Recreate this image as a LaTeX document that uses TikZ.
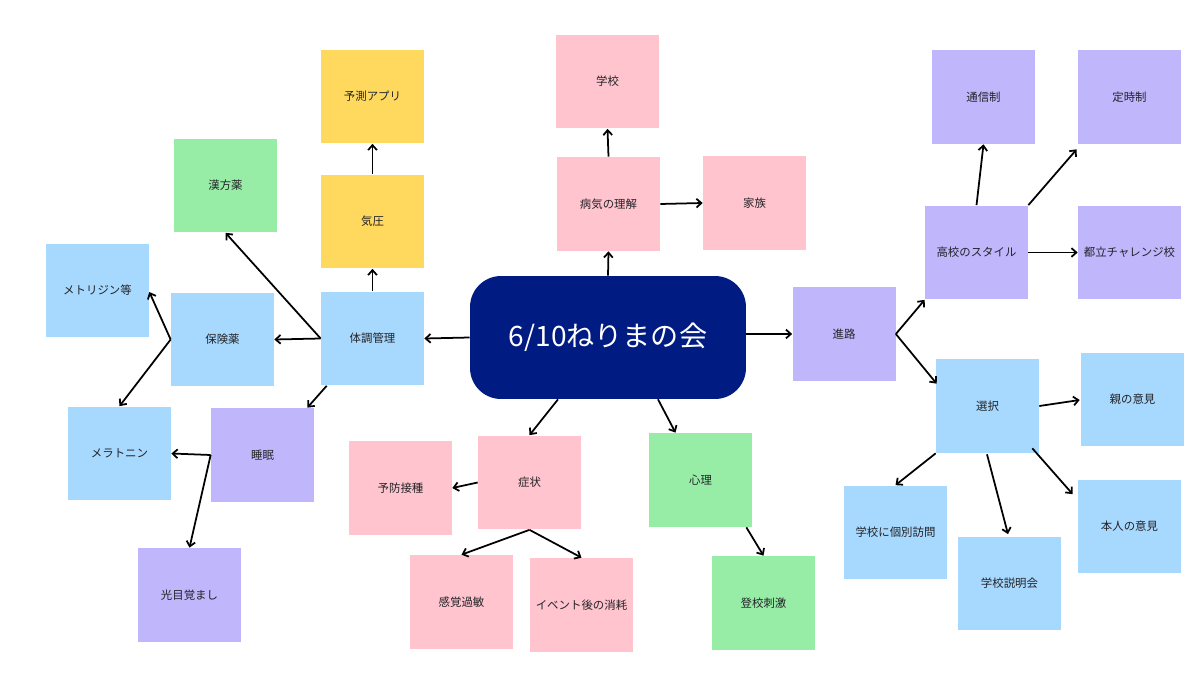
\documentclass[tikz,border=0pt]{standalone}
\usepackage{fontspec}
\newfontfamily\jp{Noto Sans CJK JP}
\usetikzlibrary{arrows.meta,calc}
\definecolor{cblue}{RGB}{167,216,253}
\definecolor{cpurple}{RGB}{192,182,252}
\definecolor{cpink}{RGB}{255,196,205}
\definecolor{cgreen}{RGB}{151,236,166}
\definecolor{cyellow}{RGB}{255,217,94}
\definecolor{cnavy}{RGB}{0,27,130}
\definecolor{ctext}{RGB}{35,35,40}
\tikzset{
  box/.style={rectangle, draw=none, minimum width=2.06cm, minimum height=1.88cm, inner sep=0pt,
    font=\jp\fontsize{6.5pt}{7pt}\selectfont, text=ctext},
  bluebox/.style={box, fill=cblue},
  purplebox/.style={box, fill=cpurple},
  pinkbox/.style={box, fill=cpink},
  greenbox/.style={box, fill=cgreen},
  yellowbox/.style={box, fill=cyellow},
  hub/.style={rectangle, rounded corners=0.62cm, fill=cnavy, minimum width=5.52cm, minimum height=2.46cm,
    inner sep=0pt, text=white, font=\jp\fontsize{16pt}{18pt}\selectfont},
  conn/.style={-{Straight Barb[length=2.8pt,width=5pt]}, line width=1pt, black},
}
\begin{document}
\begin{tikzpicture}[x=0.02cm, y=-0.02cm]
\useasboundingbox (0,0) rectangle (1200,675);
% center
\node[hub] (center) at (608,337.5) {6/10ねりまの会};
% left cluster
\node[yellowbox] (yosoku) at (372.5,96.5) {予測アプリ};
\node[yellowbox] (kiatsu) at (372.5,221.5) {気圧};
\node[greenbox] (kanpo) at (225.5,185.5) {漢方薬};
\node[bluebox] (metori) at (97.5,290.5) {メトリジン等};
\node[bluebox] (hoken) at (222.5,339.5) {保険薬};
\node[bluebox] (taicho) at (372.5,338.5) {体調管理};
\node[bluebox] (mela) at (119.5,453.5) {メラトニン};
\node[purplebox] (suimin) at (262.5,455) {睡眠};
\node[purplebox] (hikari) at (189.5,595) {光目覚まし};
% top
\node[pinkbox] (gakko) at (607.5,81.5) {学校};
\node[pinkbox] (byoki) at (608.5,204) {病気の理解};
\node[pinkbox] (kazoku) at (754.5,203) {家族};
% bottom
\node[pinkbox] (yobo) at (400.5,488) {予防接種};
\node[pinkbox] (shojo) at (529.5,482.5) {症状};
\node[greenbox] (shinri) at (700.5,480) {心理};
\node[pinkbox] (kankaku) at (461.5,602) {感覚過敏};
\node[pinkbox] (event) at (581.5,605) {イベント後の消耗};
\node[greenbox] (toko) at (763.5,603) {登校刺激};
% right
\node[purplebox] (shinro) at (844,334) {進路};
\node[purplebox] (koko) at (976.5,252.5) {高校のスタイル};
\node[purplebox] (tsushin) at (983.5,97) {通信制};
\node[purplebox] (teiji) at (1129.5,97) {定時制};
\node[purplebox] (toritsu) at (1129.5,252.5) {都立チャレンジ校};
\node[bluebox] (sentaku) at (987.5,406) {選択};
\node[bluebox] (oya) at (1132.5,399.5) {親の意見};
\node[bluebox] (kobetsu) at (895.5,532.5) {学校に個別訪問};
\node[bluebox] (setsumei) at (1009.5,583.5) {学校説明会};
\node[bluebox] (honnin) at (1129.5,526.5) {本人の意見};
% connectors
\draw[conn] (taicho.north) -- (kiatsu.south);
\draw[conn] (kiatsu.north) -- (yosoku.south);
\draw[conn] (center.west) -- (taicho.east);
\draw[conn] (taicho.west) -- (hoken.east);
\draw[conn] (taicho.west) -- (kanpo.south);
\draw[conn] (hoken.west) -- ($(metori.east)+(0,1.5)$);
\draw[conn] (hoken.west) -- (mela.north);
\draw[conn] ($(taicho.south west)+(6,0)$) -- ($(suimin.north east)+(-7,0)$);
\draw[conn] (suimin.west) -- (mela.east);
\draw[conn] (suimin.west) -- (hikari.north);
\draw[conn] (center.north) -- (byoki.south);
\draw[conn] (byoki.north) -- (gakko.south);
\draw[conn] (byoki.east) -- (kazoku.west);
\draw[conn] ($(center.south)+(-50,0)$) -- (shojo.north);
\draw[conn] ($(center.south)+(50,0)$) -- ($(shinri.north)+(-25,0)$);
\draw[conn] (shojo.west) -- (yobo.east);
\draw[conn] (shojo.south) -- (kankaku.north);
\draw[conn] (shojo.south) -- (event.north);
\draw[conn] ($(shinri.south east)+(-6,0)$) -- (toko.north);
\draw[conn] (center.east |- shinro.west) -- (shinro.west);
\draw[conn] (shinro.east) -- (koko.south west);
\draw[conn] (shinro.east) -- ($(sentaku.north west)+(1,25)$);
\draw[conn] (koko.north) -- (tsushin.south);
\draw[conn] (koko.north east) -- ($(teiji.south west)+(-1,5)$);
\draw[conn] (koko.east) -- (toritsu.west);
\draw[conn] (sentaku.east) -- ($(oya.west)+(-1,0.5)$);
\draw[conn] (sentaku.south west) -- (kobetsu.north);
\draw[conn] ($(sentaku.south)+(-0.5,1)$) -- ($(setsumei.north)+(-1.5,-2)$);
\draw[conn] ($(sentaku.south east)+(-7,-5)$) -- ($(honnin.north west)+(-5,15)$);
\end{tikzpicture}
\end{document}
